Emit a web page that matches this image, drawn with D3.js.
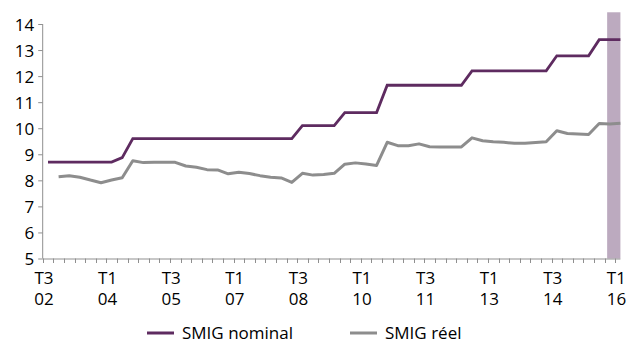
<!DOCTYPE html>
<html>
<head>
<meta charset="utf-8">
<script src="https://cdn.jsdelivr.net/npm/d3@7"></script>
<style>
  html, body { margin: 0; padding: 0; background: #fff; }
  svg text { font-family: "Open Sans", "Noto Sans", sans-serif; fill: #000; }
</style>
</head>
<body>
<svg id="chart" width="632" height="343"></svg>
<script>
// Quarterly categories, T3 2002 to T1 2016
const quarters = [
  "T3 02","T4 02","T1 03","T2 03","T3 03","T4 03","T1 04","T2 04","T3 04","T4 04",
  "T1 05","T2 05","T3 05","T4 05","T1 06","T2 06","T3 06","T4 06","T1 07","T2 07",
  "T3 07","T4 07","T1 08","T2 08","T3 08","T4 08","T1 09","T2 09","T3 09","T4 09",
  "T1 10","T2 10","T3 10","T4 10","T1 11","T2 11","T3 11","T4 11","T1 12","T2 12",
  "T3 12","T4 12","T1 13","T2 13","T3 13","T4 13","T1 14","T2 14","T3 14","T4 14",
  "T1 15","T2 15","T3 15","T4 15","T1 16"
];

// SMIG nominal (hourly)
const smigNominal = [
  8.70, 8.70, 8.70, 8.70, 8.70, 8.70, 8.70, 8.87, 9.60, 9.60,
  9.60, 9.60, 9.60, 9.60, 9.60, 9.60, 9.60, 9.60, 9.60, 9.60,
  9.60, 9.60, 9.60, 9.60, 10.10, 10.10, 10.10, 10.10, 10.60, 10.60,
  10.60, 10.60, 11.65, 11.65, 11.65, 11.65, 11.65, 11.65, 11.65, 11.65,
  12.20, 12.20, 12.20, 12.20, 12.20, 12.20, 12.20, 12.20, 12.78, 12.78,
  12.78, 12.78, 13.40, 13.40, 13.40
];

// SMIG réel
const smigReel = [
  null, 8.14, 8.18, 8.12, 8.01, 7.91, 8.01, 8.10, 8.75, 8.68,
  8.69, 8.69, 8.69, 8.55, 8.50, 8.41, 8.40, 8.25, 8.31, 8.26,
  8.18, 8.12, 8.09, 7.92, 8.27, 8.20, 8.22, 8.27, 8.62, 8.67,
  8.63, 8.57, 9.46, 9.33, 9.33, 9.40, 9.29, 9.28, 9.28, 9.28,
  9.63, 9.52, 9.48, 9.46, 9.42, 9.42, 9.45, 9.48, 9.90, 9.80,
  9.78, 9.76, 10.18, 10.16, 10.19
];

// Highlighted period
const highlighted = ["T1 16"];

// Labelled quarters on the x axis (two lines each)
const xTickLabels = [
  ["T3 02", "T3", "02"], ["T1 04", "T1", "04"], ["T3 05", "T3", "05"],
  ["T1 07", "T1", "07"], ["T3 08", "T3", "08"], ["T1 10", "T1", "10"],
  ["T3 11", "T3", "11"], ["T1 13", "T1", "13"], ["T3 14", "T3", "14"],
  ["T1 16", "T1", "16"]
];

const yTicks = [5, 6, 7, 8, 9, 10, 11, 12, 13, 14];

const seriesNames = ["SMIG nominal", "SMIG réel"];
const colors = { nominal: "#5e2b60", reel: "#8d8d8d", band: "#bcaabf", axis: "#8f8f8f" };

const svg = d3.select("#chart");

const plotLeft = 42.7, plotRight = 625.7, plotTop = 24, plotBottom = 258.5;

const x = d3.scaleBand().domain(quarters).range([plotLeft, plotRight]).paddingInner(0).paddingOuter(0);
const step = x.bandwidth();
const xc = q => x(q) + step / 2;
const xEnd = xc(quarters[quarters.length - 1]);

const y = d3.scaleLinear().domain([5, 14]).range([plotBottom, plotTop]);

// Highlighted column
svg.append("g").selectAll("rect").data(highlighted).join("rect")
  .attr("x", d => xc(d) - step * 1.25)
  .attr("width", step * 1.25)
  .attr("y", y(14.45))
  .attr("height", plotBottom - y(14.45))
  .attr("fill", colors.band);

// Y axis
const yAxis = svg.append("g").attr("transform", `translate(${plotLeft},0)`)
  .call(d3.axisLeft(y).tickValues(yTicks).tickSize(4.5).tickPadding(4).tickSizeOuter(0));
yAxis.select(".domain").attr("stroke", colors.axis).attr("d", `M0,${y(14)}V${plotBottom}`);
yAxis.selectAll(".tick line").attr("stroke", colors.axis);
yAxis.selectAll(".tick text").attr("font-size", 17).attr("fill", "#000")
  .attr("font-family", "Open Sans, Noto Sans, sans-serif").attr("dy", "0.36em");

// X axis: baseline and a tick between every quarter
const xAxis = svg.append("g");
xAxis.append("line")
  .attr("x1", plotLeft).attr("x2", xEnd)
  .attr("y1", plotBottom + 0.5).attr("y2", plotBottom + 0.5)
  .attr("stroke", colors.axis);
xAxis.selectAll("line.tk").data(quarters).join("line").attr("class", "tk")
  .attr("x1", d => Math.round(x(d)) + 0.5).attr("x2", d => Math.round(x(d)) + 0.5)
  .attr("y1", plotBottom).attr("y2", plotBottom + 4.5)
  .attr("stroke", colors.axis);

const xl = xAxis.selectAll("text.xl").data(xTickLabels).join("text").attr("class", "xl")
  .attr("text-anchor", "middle").attr("font-size", 17);
xl.append("tspan").attr("x", d => xc(d[0]) - 4).attr("y", 283.5).text(d => d[1]);
xl.append("tspan").attr("x", d => xc(d[0]) - 4).attr("y", 305).text(d => d[2]);

// Lines
const line = d3.line()
  .defined(d => d.v != null)
  .x(d => xc(d.q))
  .y(d => y(d.v));

svg.append("path")
  .datum(quarters.map((q, i) => ({ q, v: smigReel[i] })))
  .attr("d", line).attr("fill", "none")
  .attr("stroke", colors.reel).attr("stroke-width", 3).attr("stroke-linejoin", "round");

svg.append("path")
  .datum(quarters.map((q, i) => ({ q, v: smigNominal[i] })))
  .attr("d", line).attr("fill", "none")
  .attr("stroke", colors.nominal).attr("stroke-width", 2.8).attr("stroke-linejoin", "miter");

// Legend
const legend = [
  { name: seriesNames[0], color: colors.nominal, x: 147 },
  { name: seriesNames[1], color: colors.reel, x: 350 }
];
const lg = svg.append("g").selectAll("g").data(legend).join("g")
  .attr("transform", d => `translate(${d.x},333)`);
lg.append("line").attr("x1", 0).attr("x2", 27).attr("y1", 0).attr("y2", 0)
  .attr("stroke", d => d.color).attr("stroke-width", 3);
lg.append("text").attr("x", 35).attr("y", 6).attr("font-size", 17).text(d => d.name);
</script>
</body>
</html>
